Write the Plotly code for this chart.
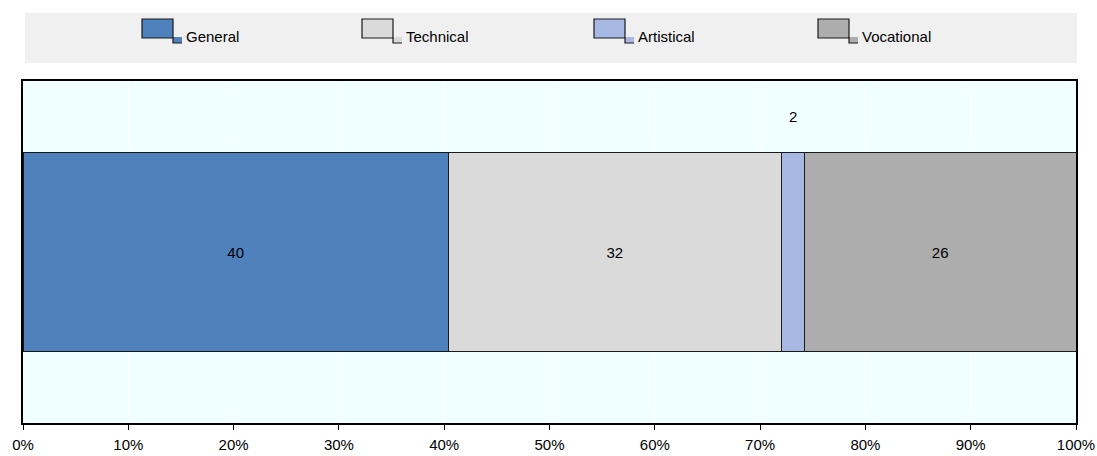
import plotly.graph_objects as go

categories = ["General", "Technical", "Artistical", "Vocational"]
values = [40.4, 31.6, 2.2, 25.8]
colors = ["#4F81BD", "#DADADA", "#A7B9E3", "#ADADAD"]
tick_vals = [0, 10, 20, 30, 40, 50, 60, 70, 80, 90, 100]
tick_text = [f"{v}%" for v in tick_vals]

W, H = 1097, 456
ML, MR, MT, MB = 23, 21, 81, 33
PW, PH = W - ML - MR, H - MT - MB


def px(x):
    return (x - ML) / PW


def py(y):
    return (H - MB - y) / PH


FONT = "Liberation Sans, Arial, sans-serif"
FS = 15

fig = go.Figure()
outside = []
base = 0
for name, v, c in zip(categories, values, colors):
    label = str(round(v))
    inside = v >= 5
    fig.add_trace(go.Bar(
        y=[""], x=[v], name=name, orientation="h",
        marker=dict(color=c, line=dict(color="#1a1a1a", width=1)),
        width=0.58,
        text=[label if inside else ""],
        textposition="inside", insidetextanchor="middle",
        textfont=dict(color="black", size=FS, family=FONT),
        showlegend=False, hoverinfo="skip",
    ))
    if not inside:
        outside.append((base + v / 2, label))
    base += v

annotations = []
for xm, label in outside:
    annotations.append(dict(x=xm, y=0.395, xref="x", yref="y", text=label,
                            showarrow=False, font=dict(size=FS, color="black", family=FONT)))

shapes = []
# legend background
shapes.append(dict(type="rect", xref="paper", yref="paper",
                   x0=px(25), x1=px(1077), y0=py(63), y1=py(13),
                   fillcolor="#F0F0F0", line=dict(width=0), layer="below"))
leg_x = [142, 362, 594, 818]
for lx, name, c in zip(leg_x, categories, colors):
    shapes.append(dict(type="rect", xref="paper", yref="paper",
                       x0=px(lx + 31), x1=px(lx + 40), y0=py(43), y1=py(37),
                       fillcolor=c, line=dict(width=0)))
    shapes.append(dict(type="rect", xref="paper", yref="paper",
                       x0=px(lx), x1=px(lx + 31), y0=py(38), y1=py(19),
                       fillcolor=c, line=dict(color="#1a1a1a", width=1.2)))
    shapes.append(dict(type="path", xref="paper", yref="paper",
                       path=(f"M {px(lx + 31)},{py(38)} L {px(lx + 31)},{py(43)} "
                             f"L {px(lx + 40)},{py(43)}"),
                       line=dict(color="#1a1a1a", width=1.2)))
    annotations.append(dict(x=px(lx + 42), y=py(37), xref="paper", yref="paper",
                            text=name, showarrow=False, xanchor="left", yanchor="middle",
                            font=dict(size=FS, color="black", family=FONT)))

fig.update_layout(
    width=W, height=H,
    margin=dict(l=ML, r=MR, t=MT, b=MB, pad=0, autoexpand=False),
    barmode="stack",
    paper_bgcolor="white",
    plot_bgcolor="#F0FFFF",
    shapes=shapes,
    annotations=annotations,
    font=dict(family=FONT, size=FS, color="black"),
    xaxis=dict(range=[0, 100], tickvals=tick_vals, ticktext=tick_text,
               showgrid=True, gridcolor="white", gridwidth=1,
               ticks="outside", ticklen=5, tickcolor="black", tickwidth=1,
               ticklabelstandoff=2,
               showline=True, linecolor="black", linewidth=2, mirror=True,
               zeroline=False, tickfont=dict(size=FS, family=FONT, color="black"),
               automargin=False, fixedrange=True),
    yaxis=dict(range=[-0.5, 0.5], showticklabels=False, showgrid=False,
               showline=True, linecolor="black", linewidth=2, mirror=True,
               zeroline=False, automargin=False, fixedrange=True),
)

fig.write_html("out.html", config={"displayModeBar": False})
